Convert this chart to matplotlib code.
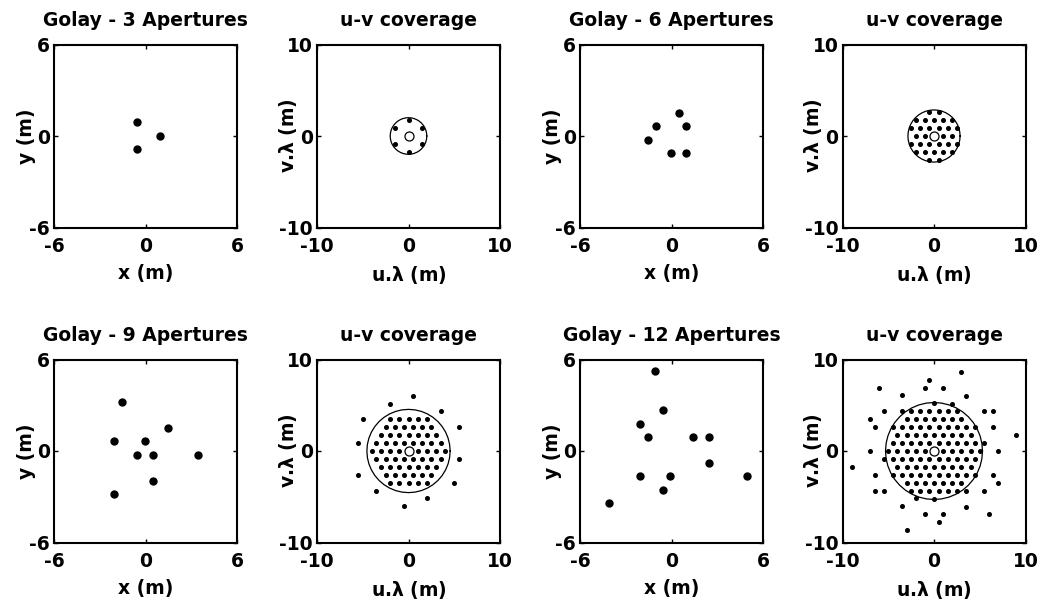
import numpy as np
import matplotlib
matplotlib.use("Agg")
import matplotlib.pyplot as plt

plt.rcParams.update({
    "font.family": ["DejaVu Sans"],
    "font.weight": "bold",
    "font.size": 13.5,
    "axes.unicode_minus": False,
    "mathtext.fontset": "custom",
    "mathtext.rm": "DejaVu Sans",
    "mathtext.it": "DejaVu Sans:italic",
    "mathtext.bf": "DejaVu Sans:bold",
})

# aperture centres (m) for each Golay configuration
golay3_x = [-0.56, 0.94, -0.56]
golay3_y = [0.90, 0.03, -0.83]

golay6_x = [0.46, -1.04, 0.96, -1.54, -0.04, 0.96]
golay6_y = [1.49, 0.63, 0.63, -0.24, -1.11, -1.11]

golay9_x = [-1.54, 1.46, -2.04, -0.04, -0.54, 0.46, 3.46, 0.46, -2.04]
golay9_y = [3.23, 1.50, 0.64, 0.64, -0.23, -0.23, -0.23, -1.96, -2.83]

golay12_x = [-1.07, -0.57, -2.07, -1.57, 1.43, 2.43, 2.43, -2.07, -0.07, 4.93, -0.57, -4.07]
golay12_y = [5.26, 2.66, 1.79, 0.93, 0.93, 0.93, -0.81, -1.67, -1.67, -1.67, -2.54, -3.40]

# radius of the reference circle drawn on each u-v plot
uv_radius = [2.0, 2.85, 4.55, 5.3]

configs = [
    ("Golay - 3 Apertures", golay3_x, golay3_y),
    ("Golay - 6 Apertures", golay6_x, golay6_y),
    ("Golay - 9 Apertures", golay9_x, golay9_y),
    ("Golay - 12 Apertures", golay12_x, golay12_y),
]

W, H = 1040, 609
col_cx = [145.5, 408.5, 671.5, 934.0]
row_cy = [136.0, 451.0]
SIZE = 183.0
FS = 13.5


def make_axes(fig, cx, cy):
    return fig.add_axes([(cx - SIZE / 2) / W, 1 - (cy + SIZE / 2) / H, SIZE / W, SIZE / H])


def style_axes(ax, lim, xlabel, ylabel, title):
    ax.set_xlim(-lim, lim)
    ax.set_ylim(-lim, lim)
    ax.set_xticks([-lim, 0, lim])
    ax.set_yticks([-lim, 0, lim])
    ax.tick_params(direction="in", length=3, width=1, top=True, right=True,
                   labelsize=FS)
    ax.tick_params(axis="x", pad=7)
    ax.tick_params(axis="y", pad=3)
    for lbl in ax.get_xticklabels() + ax.get_yticklabels():
        lbl.set_fontweight("bold")
    for s in ax.spines.values():
        s.set_linewidth(1.5)
    ax.set_xlabel(xlabel, fontsize=FS, fontweight="bold")
    ax.set_ylabel(ylabel, fontsize=FS, fontweight="bold")
    ax.yaxis.set_label_coords(-0.1, 0.5)
    ax.xaxis.set_label_coords(0.5, -0.2)
    ax.set_title(title, fontsize=FS, fontweight="bold", pad=13)


fig = plt.figure(figsize=(W / 100, H / 100), dpi=100, facecolor="white")

for k, (name, xs, ys) in enumerate(configs):
    row, col = divmod(k, 2)
    ax_p = make_axes(fig, col_cx[2 * col], row_cy[row])
    ax_uv = make_axes(fig, col_cx[2 * col + 1], row_cy[row])

    # pupil layout
    ax_p.plot(xs, ys, "o", color="black", markersize=5, linestyle="none")
    style_axes(ax_p, 6, "x (m)", "y (m)", name)

    # u-v coverage: every pairwise baseline between apertures
    xs_a, ys_a = np.asarray(xs), np.asarray(ys)
    du = xs_a[:, None] - xs_a[None, :]
    dv = ys_a[:, None] - ys_a[None, :]
    mask = ~np.eye(len(xs), dtype=bool)
    ax_uv.plot(du[mask], dv[mask], "o", color="black", markersize=2.6, linestyle="none")
    ax_uv.plot([0], [0], "o", mfc="white", mec="black", markersize=6.5, mew=0.9)
    t = np.linspace(0, 2 * np.pi, 41)
    r = uv_radius[k]
    ax_uv.plot(r * np.cos(t), r * np.sin(t), color="black", linewidth=0.9)
    style_axes(ax_uv, 10, r"u.$\mathrm{\lambda}$ (m)", r"v.$\mathrm{\lambda}$ (m)", "u-v coverage")

fig.savefig("out.png", dpi=100, facecolor="white")
